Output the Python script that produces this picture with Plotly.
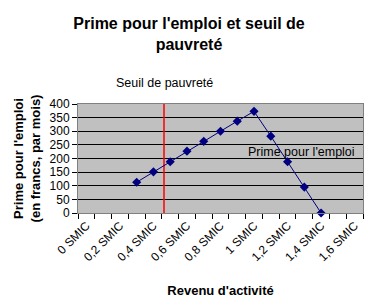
import plotly.graph_objects as go

# Data
smic_x = [0.3, 0.4, 0.5, 0.6, 0.7, 0.8, 0.9, 1.0, 1.1, 1.2, 1.3, 1.4]
prime = [113, 151, 188, 227, 263, 300, 337, 373, 282, 188, 95, 0]
seuil_x = 0.463
tick_vals = [0, 0.2, 0.4, 0.6, 0.8, 1.0, 1.2, 1.4, 1.6]
tick_text = ["0 SMIC", "0,2 SMIC", "0,4 SMIC", "0,6 SMIC", "0,8 SMIC",
             "1 SMIC", "1,2 SMIC", "1,4 SMIC", "1,6 SMIC"]
y_ticks = [0, 50, 100, 150, 200, 250, 300, 350, 400]

FONT = "Liberation Sans, Arial, sans-serif"

fig = go.Figure()
fig.add_trace(go.Scatter(
    x=[seuil_x, seuil_x], y=[0, 400], mode="lines",
    line=dict(color="#FF0000", width=1.5), hoverinfo="skip", showlegend=False))
fig.add_trace(go.Scatter(
    x=smic_x, y=prime, mode="lines+markers",
    line=dict(color="#000080", width=1),
    marker=dict(symbol="diamond", size=7, color="#000080"),
    cliponaxis=False, showlegend=False))

fig.update_layout(
    width=378, height=306,
    margin=dict(l=78, r=15, t=104, b=93),
    paper_bgcolor="white", plot_bgcolor="#C0C0C0",
    font=dict(family=FONT, size=12, color="black"),
    title=dict(text="<b>Prime pour l'emploi et seuil de<br>pauvreté</b>",
               x=0.5, xanchor="center", y=0.905, yanchor="top",
               font=dict(size=16)),
    showlegend=False,
    annotations=[
        dict(text="Seuil de pauvreté", x=seuil_x, xref="x", y=1, yref="paper",
             yshift=30, showarrow=False, font=dict(size=12.5)),
        dict(text="Prime pour l'emploi", x=0.95, xref="x", y=224, yref="y",
             xanchor="left", showarrow=False, font=dict(size=12.5)),
    ],
)
fig.update_xaxes(
    range=[-0.05, 1.65], tickvals=tick_vals, ticktext=tick_text,
    tickangle=-45, ticks="", showgrid=False, zeroline=False,
    showline=True, linecolor="#808080", mirror=True,
    minor=dict(ticks="outside", tick0=-0.05, dtick=0.1, ticklen=5,
               tickcolor="black", showgrid=False),
    title=dict(text="<b>Revenu d'activité</b>", font=dict(size=13), standoff=22),
    tickfont=dict(size=12),
)
fig.update_yaxes(
    range=[0, 400], tickvals=y_ticks, ticks="outside", ticklen=5,
    tickcolor="black", showgrid=True, gridcolor="black", gridwidth=1,
    zeroline=False, showline=True, linecolor="#808080", mirror=True,
    title=dict(text="<b>Prime pour l'emploi<br>(en francs, par mois)</b>",
               font=dict(size=13), standoff=6),
    tickfont=dict(size=12),
)

fig.write_html("out.html")
